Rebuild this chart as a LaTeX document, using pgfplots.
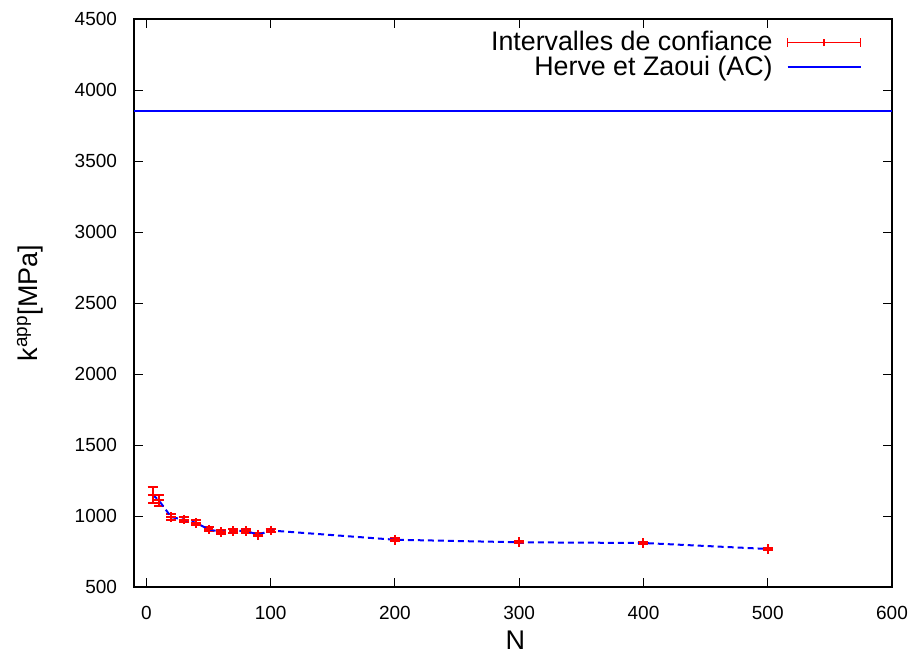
\documentclass[border=0pt]{standalone}
\usepackage{fontspec}
\setmainfont{Liberation Sans}
\usepackage{pgfplots}
\pgfplotsset{compat=1.18}
\usepackage{pgfplotstable}

% N, moyenne, demi-intervalle
\pgfplotstableread{
N k e
5 1150 55
10 1110 40
20 992 20
30 975 18
40 952 17
50 906 15
60 888 14
70 895 14
80 895 14
90 868 12
100 898 12
200 833 10
300 815 8
400 810 8
500 768 8
}\conf

\begin{document}
\begin{tikzpicture}
\begin{axis}[name=ax, scale only axis, width=379bp, height=284bp,
  xmin=-10, xmax=600, ymin=500, ymax=4500,
  xtick={0,100,...,600}, ytick={500,1000,...,4500},
  /pgf/number format/assume math mode=true,
  /pgf/number format/1000 sep={},
  tick label style={font=\fontsize{9.5bp}{11bp}\selectfont},
  xticklabel style={yshift=-6bp},
  yticklabel style={xshift=-5bp},
  label style={font=\fontsize{13.5bp}{15bp}\selectfont},
  xlabel={N}, ylabel={k\textsuperscript{app}[MPa]},
  xlabel style={at={(axis description cs:0.503,-0.093)}, anchor=center},
  ylabel style={at={(axis description cs:-0.137,0.5)}, anchor=center},
  major tick length=4.5bp, tick style={black, line width=0.5bp},
  axis line style={line width=0.75bp},
  legend plot pos=right, legend cell align=right,
  legend style={draw=none, fill=none, at={(rel axis cs:1,1)}, anchor=north east,
    xshift=-12bp, yshift=-2bp, font=\fontsize{13.4bp}{15bp}\selectfont, row sep=-3bp},
]
\addplot[red, only marks, mark=+, mark size=2.4bp, mark options={line width=1bp},
  legend image code/.code={
    \path (0bp,0bp);
    \draw[red, line width=0.8bp] (5bp,0bp) -- (41.5bp,0bp);
    \draw[red, line width=0.8bp] (5bp,-2.2bp) -- (5bp,2.2bp);
    \draw[red, line width=0.8bp] (41.5bp,-2.2bp) -- (41.5bp,2.2bp);
    \draw[red, line width=0.8bp] (23.25bp,-1.8bp) -- (23.25bp,1.8bp);
  },
  error bars/.cd, y dir=both, y explicit,
  error bar style={red, line width=1bp},
  error mark options={red, rotate=90, mark size=2.5bp, line width=1bp},
  ] table[x=N, y=k, y error=e] {\conf};
\addlegendentry{Intervalles de confiance}
\addplot[blue, line width=1bp, dash pattern=on 3bp off 2bp, forget plot]
  table[x=N, y=k] {\conf};
\addplot[blue, line width=1bp,
  legend image code/.code={\path (0bp,0bp); \draw[blue, line width=1bp] (5bp,0bp) -- (41.5bp,0bp);}]
  coordinates {(-10,3850) (600,3850)};
\addlegendentry{Herve et Zaoui (AC)}
\end{axis}
\path (ax.south west) ++(-67bp,-33bp);
\path (ax.north east) ++(11.5bp,9.5bp);
\end{tikzpicture}
\end{document}
